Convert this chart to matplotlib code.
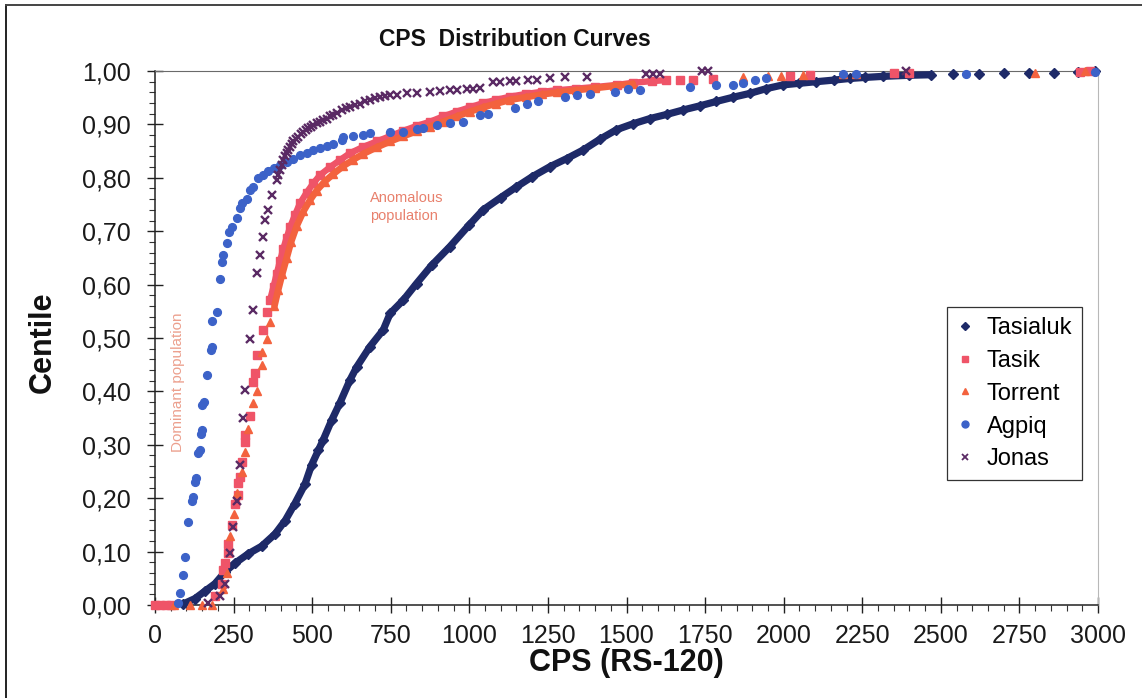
import numpy as np
import matplotlib
matplotlib.use("Agg")
import matplotlib.pyplot as plt
from matplotlib.lines import Line2D
from matplotlib.ticker import MultipleLocator, FuncFormatter

plt.rcParams['font.family'] = ['Liberation Sans', 'DejaVu Sans']

# ---- data: CPS readings and their centile for each survey area ----
tasialuk_cps = [90, 127, 159, 191, 223, 254, 297, 339, 382, 414,
                445, 477, 498, 520, 535, 562, 588, 620, 642, 684,
                726, 748, 790, 832, 880, 938, 1000, 1044, 1100, 1150,
                1200, 1257, 1310, 1362, 1415, 1468, 1520, 1575, 1630, 1680,
                1735, 1786, 1840, 1892, 1945, 1998, 2050, 2104, 2160, 2210,
                2260, 2317, 2400, 2470, 2540, 2620, 2700, 2780, 2860, 2936,
                2990]
tasialuk_centile = [0.002, 0.012, 0.026, 0.040, 0.062, 0.078, 0.096, 0.110, 0.133, 0.158,
                    0.190, 0.226, 0.262, 0.290, 0.309, 0.346, 0.378, 0.421, 0.446, 0.484,
                    0.515, 0.546, 0.571, 0.602, 0.636, 0.671, 0.712, 0.740, 0.763, 0.783,
                    0.802, 0.821, 0.836, 0.852, 0.872, 0.890, 0.901, 0.911, 0.919, 0.927,
                    0.935, 0.943, 0.951, 0.958, 0.967, 0.974, 0.977, 0.980, 0.983, 0.986,
                    0.988, 0.990, 0.992, 0.993, 0.994, 0.995, 0.996, 0.997, 0.997, 0.998,
                    1.000]

tasik_cps = [0, 15, 35, 50, 191, 212, 217, 223, 233, 233,
             244, 254, 265, 265, 270, 276, 286, 286, 302, 313,
             318, 323, 345, 355, 366, 377, 387, 398, 408, 419,
             430, 445, 461, 482, 504, 525, 557, 588, 620, 663,
             705, 748, 790, 832, 875, 917, 960, 1002, 1044, 1086,
             1130, 1180, 1230, 1280, 1340, 1400, 1470, 1521, 1580, 1627,
             1670, 1710, 1775, 2020, 2084, 2350, 2400, 2943, 2975]
tasik_centile = [0.0, 0.0, 0.0, 0.0, 0.016, 0.040, 0.066, 0.078, 0.097, 0.115,
                 0.150, 0.190, 0.206, 0.228, 0.240, 0.268, 0.306, 0.318, 0.353, 0.418,
                 0.434, 0.468, 0.515, 0.549, 0.571, 0.596, 0.620, 0.645, 0.667, 0.688,
                 0.708, 0.730, 0.752, 0.772, 0.790, 0.805, 0.820, 0.833, 0.846, 0.858,
                 0.868, 0.878, 0.888, 0.897, 0.905, 0.915, 0.924, 0.932, 0.940, 0.946,
                 0.952, 0.957, 0.961, 0.964, 0.967, 0.970, 0.974, 0.978, 0.981, 0.983,
                 0.984, 0.984, 0.985, 0.990, 0.993, 0.996, 0.997, 0.998, 1.000]

torrent_cps = [60, 110, 150, 180, 217, 228, 240, 250, 260, 276,
               286, 297, 313, 323, 339, 339, 355, 366, 380, 392,
               405, 419, 433, 451, 472, 493, 514, 540, 567, 599,
               631, 663, 705, 748, 790, 832, 875, 917, 960, 1002,
               1044, 1086, 1130, 1180, 1230, 1280, 1340, 1400, 1460, 1520,
               1870, 1950, 1990, 2062, 2190, 2230, 2800, 2960]
torrent_centile = [0.0, 0.0, 0.0, 0.0, 0.030, 0.060, 0.130, 0.170, 0.210, 0.250,
                   0.287, 0.330, 0.378, 0.400, 0.449, 0.474, 0.499, 0.530, 0.560, 0.590,
                   0.620, 0.650, 0.680, 0.710, 0.737, 0.758, 0.776, 0.793, 0.807, 0.822,
                   0.834, 0.845, 0.857, 0.868, 0.878, 0.887, 0.896, 0.905, 0.915, 0.924,
                   0.932, 0.939, 0.946, 0.951, 0.956, 0.960, 0.964, 0.968, 0.972, 0.976,
                   0.988, 0.990, 0.990, 0.992, 0.994, 0.995, 0.997, 1.000]

agpiq_cps = [74, 80, 90, 95, 106, 117, 122, 127, 130, 138,
             143, 146, 149, 151, 156, 164, 178, 180, 180, 196,
             207, 212, 217, 228, 236, 244, 260, 270, 276, 292,
             302, 313, 329, 345, 361, 377, 398, 419, 440, 461,
             483, 504, 525, 546, 567, 594, 599, 631, 663, 684,
             748, 790, 832, 854, 896, 938, 981, 1033, 1060, 1145,
             1183, 1219, 1304, 1341, 1384, 1463, 1506, 1543, 1702, 1786,
             1840, 1871, 1909, 1945, 2190, 2230, 2580, 2990]
agpiq_centile = [0.003, 0.022, 0.056, 0.090, 0.156, 0.194, 0.203, 0.231, 0.237, 0.284,
                 0.290, 0.321, 0.328, 0.375, 0.381, 0.431, 0.478, 0.484, 0.531, 0.549,
                 0.610, 0.643, 0.655, 0.677, 0.699, 0.708, 0.724, 0.743, 0.752, 0.761,
                 0.777, 0.783, 0.799, 0.805, 0.812, 0.818, 0.824, 0.830, 0.836, 0.843,
                 0.846, 0.852, 0.855, 0.860, 0.863, 0.871, 0.877, 0.878, 0.880, 0.883,
                 0.885, 0.886, 0.892, 0.894, 0.899, 0.902, 0.905, 0.918, 0.919, 0.930,
                 0.939, 0.943, 0.952, 0.955, 0.957, 0.960, 0.967, 0.965, 0.970, 0.974,
                 0.974, 0.977, 0.983, 0.986, 0.994, 0.994, 0.994, 0.998]

jonas_cps = [170, 207, 223, 239, 249, 260, 270, 281, 286, 302,
             313, 323, 334, 345, 350, 361, 371, 387, 392, 398,
             403, 408, 414, 419, 424, 430, 435, 440, 448, 456,
             464, 472, 480, 488, 496, 504, 514, 525, 535, 546,
             556, 567, 580, 594, 607, 620, 636, 652, 668, 684,
             700, 716, 732, 748, 769, 801, 832, 875, 906, 938,
             960, 991, 1013, 1033, 1076, 1097, 1129, 1150, 1187, 1214,
             1257, 1304, 1373, 1563, 1585, 1606, 1740, 1760, 2390]
jonas_centile = [0.003, 0.016, 0.040, 0.097, 0.147, 0.194, 0.262, 0.350, 0.403, 0.499,
                 0.552, 0.621, 0.655, 0.690, 0.721, 0.740, 0.768, 0.796, 0.806, 0.815,
                 0.824, 0.833, 0.840, 0.846, 0.852, 0.858, 0.863, 0.868, 0.873, 0.877,
                 0.882, 0.886, 0.890, 0.893, 0.896, 0.899, 0.902, 0.905, 0.908, 0.911,
                 0.915, 0.918, 0.922, 0.927, 0.930, 0.933, 0.936, 0.939, 0.943, 0.946,
                 0.949, 0.951, 0.953, 0.955, 0.955, 0.958, 0.959, 0.961, 0.962, 0.964,
                 0.965, 0.967, 0.967, 0.969, 0.980, 0.980, 0.982, 0.982, 0.983, 0.983,
                 0.986, 0.988, 0.989, 0.994, 0.994, 0.994, 1.000, 1.000, 1.000]

series_names = ["Tasialuk", "Tasik", "Torrent", "Agpiq", "Jonas"]
x_ticks = list(range(0, 3001, 250))

# ---- figure ----
W, H = 1142, 698
fig = plt.figure(figsize=(W / 100, H / 100), dpi=100)
fig.patch.set_facecolor("white")
ax = fig.add_axes([155 / W, 1 - 605 / H, (1098 - 155) / W, (605 - 71) / H])

navy = "#1e2a68"
pink = "#ef5468"
orange = "#f3623e"
blue = "#3c62c8"
purple = "#5a2a64"

styles = {
    "Tasialuk": dict(marker="D", color=navy, ms=4.6, line_w=5.2, dense_max=2470, dense_min=0.0),
    "Tasik": dict(marker="s", color=pink, ms=5.8, line_w=4.6, dense_max=1650, dense_min=0.55),
    "Torrent": dict(marker="^", color=orange, ms=6.4, line_w=4.8, dense_max=1550, dense_min=0.55),
}

data = {
    "Tasialuk": (tasialuk_cps, tasialuk_centile),
    "Tasik": (tasik_cps, tasik_centile),
    "Torrent": (torrent_cps, torrent_centile),
    "Agpiq": (agpiq_cps, agpiq_centile),
    "Jonas": (jonas_cps, jonas_centile),
}

z = 3
for name in ["Tasialuk", "Tasik", "Torrent"]:
    x, y = map(np.asarray, data[name])
    st = styles[name]
    dense = (x <= st["dense_max"]) & (y >= st["dense_min"])
    ax.plot(x[dense], y[dense], color=st["color"], lw=st["line_w"],
            solid_capstyle="round", zorder=z, clip_on=False)
    ax.plot(x, y, ls="none", marker=st["marker"], color=st["color"],
            ms=st["ms"], mec=st["color"], zorder=z + 0.5, clip_on=False)
    z += 1

ax.plot(agpiq_cps, agpiq_centile, ls="none", marker="o", color=blue,
        ms=5.6, mec=blue, zorder=7, clip_on=False)
ax.plot(jonas_cps, jonas_centile, ls="none", marker="x", color=purple,
        ms=5.8, mew=1.7, zorder=8, clip_on=False)

# ---- axes ----
ax.set_xlim(0, 3000)
ax.set_ylim(0, 1.0)
ax.set_xticks(x_ticks)
ax.xaxis.set_minor_locator(MultipleLocator(50))
ax.yaxis.set_major_locator(MultipleLocator(0.1))
ax.yaxis.set_minor_locator(MultipleLocator(0.02))
ax.yaxis.set_major_formatter(FuncFormatter(lambda v, p: f"{v:.2f}".replace(".", ",")))

ax.tick_params(which="major", direction="inout", length=11, width=1.0,
               labelsize=18, colors="#222222")
ax.tick_params(axis="x", which="major", pad=8)
ax.tick_params(axis="y", which="major", pad=12)
ax.tick_params(which="minor", direction="out", length=4, width=0.8, color="#333333")
for lbl in ax.get_xticklabels() + ax.get_yticklabels():
    lbl.set_color("#1a1a1a")

for side in ["left", "bottom"]:
    ax.spines[side].set_color("#222222")
    ax.spines[side].set_linewidth(1.1)
ax.spines["top"].set_color("#6a6a6a")
ax.spines["right"].set_color("#b8b8b8")

ax.set_xlabel("CPS (RS-120)", fontsize=22, fontweight="bold", color="#111111")
ax.xaxis.set_label_coords(0.5, (605 - 648) / 534)
ax.set_ylabel("Centile", fontsize=22, fontweight="bold", color="#111111")
ax.yaxis.set_label_coords((58 - 155) / 943, 0.5 - 4 / 534)

fig.text(515 / W, 1 - 40 / H, "CPS  Distribution Curves", fontsize=16.5,
         fontweight="bold", ha="center", va="center", color="#111111")

# annotations for the two populations
ax.text(684, 0.775, "Anomalous\npopulation", fontsize=10.5, color="#e8806c",
        ha="left", va="top", linespacing=1.35)
ax.text(72, 0.418, "Dominant population", fontsize=11, color="#eca08e",
        rotation=90, ha="center", va="center")

# ---- legend ----
handles = [
    Line2D([], [], ls="none", marker="D", color=navy, ms=4),
    Line2D([], [], ls="none", marker="s", color=pink, ms=5),
    Line2D([], [], ls="none", marker="^", color=orange, ms=5),
    Line2D([], [], ls="none", marker="o", color=blue, ms=5),
    Line2D([], [], ls="none", marker="x", color=purple, ms=4.5, mew=1.3),
]
leg = ax.legend(handles, series_names, loc="upper right",
                bbox_to_anchor=(0.983, 0.558), bbox_transform=ax.transAxes,
                borderaxespad=0, fontsize=17, frameon=True, fancybox=False,
                edgecolor="#333333", framealpha=1, handlelength=0.7,
                handletextpad=0.55, labelspacing=0.46, borderpad=0.42)
leg.get_frame().set_linewidth(0.9)
leg.set_zorder(10)

# outer frame of the chart area
fig.add_artist(Line2D([6 / W, 6 / W], [0, 1 - 5 / H], transform=fig.transFigure,
                      color="#222222", lw=1.4))
fig.add_artist(Line2D([6 / W, 1], [1 - 5 / H, 1 - 5 / H], transform=fig.transFigure,
                      color="#444444", lw=1.4))

fig.savefig("out.png", dpi=100, facecolor="white")
